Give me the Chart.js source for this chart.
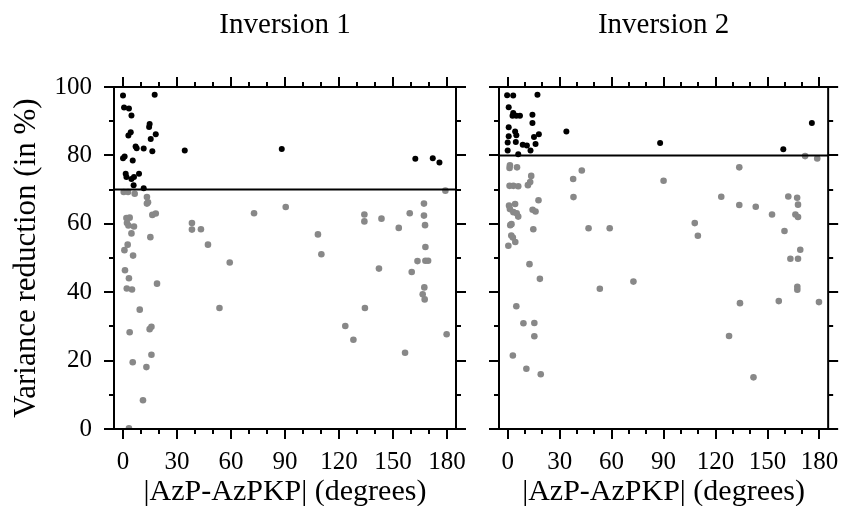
<!DOCTYPE html>
<html>
<head>
<meta charset="utf-8">
<script src="https://cdn.jsdelivr.net/npm/chart.js@4.4.0/dist/chart.umd.min.js"></script>
<style>
  body { margin: 0; background: #fff; }
  #wrap { position: relative; width: 857px; height: 506px; }
  canvas { position: absolute; left: 0; top: 0; }
</style>
</head>
<body>
<div id="wrap">
  <canvas id="inv1" width="857" height="506"></canvas>
  <canvas id="inv2" width="857" height="506"></canvas>
</div>
<script>
// [|AzP-AzPKP|, variance reduction]
const inv1Above = [[0,97.5],[17.6,97.7],[0.6,94.0],[3.3,93.7],[4.7,91.7],[14.8,89.2],[14.5,88.3],[4.3,86.8],[3.0,85.8],[18.2,86.2],[15.4,84.8],[7.0,82.6],[7.6,82.1],[11.5,82.0],[16.3,81.2],[34.3,81.4],[0,79.2],[0.9,79.7],[5.4,78.5],[1.5,74.6],[1.9,73.7],[6.1,73.7],[8.9,74.6],[4.7,73.1],[5.9,71.3],[11.5,70.4],[88.2,81.9],[162.4,79.0],[172.1,79.2],[175.8,77.9]];
const inv1Below = [[0.4,69.3],[2.8,69.3],[6.5,68.8],[13.3,67.8],[13.9,66.3],[13.3,65.9],[16.3,62.6],[18.2,63.0],[72.8,63.1],[1.9,61.7],[3.7,61.8],[2.2,60.2],[3.0,59.5],[6.1,59.2],[4.7,57.2],[15.2,56.1],[38.3,60.2],[38.3,58.3],[43.3,58.4],[47.2,53.9],[2.6,53.9],[0.8,52.3],[5.6,50.7],[59.3,48.7],[1.1,46.4],[3.3,44.1],[18.9,42.5],[2.1,41.1],[5.0,40.8],[9.3,34.9],[53.6,35.4],[15.8,29.9],[14.8,29.2],[3.7,28.3],[15.8,21.7],[5.4,19.5],[13.0,18.1],[11.1,8.4],[3.3,0.2],[90.4,64.9],[179.1,69.7],[167.2,65.9],[134.1,62.7],[134.1,60.7],[143.6,61.5],[159.3,63.1],[167.2,62.4],[153.2,58.8],[167.8,59.6],[108.3,56.9],[110.2,51.1],[168.0,53.2],[163.6,49.1],[168.0,49.2],[169.5,49.2],[142.2,46.9],[160.4,45.9],[167.4,41.4],[166.5,39.4],[167.6,37.9],[134.4,35.4],[123.5,30.1],[128.0,26.1],[179.8,27.7],[156.7,22.3]];
const inv2Above = [[-0.3,97.6],[3.2,97.5],[17.2,97.7],[0.6,94.1],[3.2,92.4],[2.8,91.6],[5.0,91.6],[7.1,91.6],[14.3,91.9],[14.3,89.5],[0.6,88.2],[4.3,87.0],[5.0,85.9],[33.9,87.0],[18.0,86.2],[15.2,85.4],[0.6,85.6],[0,83.8],[4.7,83.9],[8.7,83.1],[11.1,82.9],[16.1,83.3],[0,81.4],[13.2,81.4],[6.1,80.3],[88.0,83.6],[159.1,81.8],[175.6,89.5]];
const inv2Below = [[1.3,77.1],[1.1,76.3],[5.4,76.5],[13.6,74.0],[13.0,72.2],[11.7,71.3],[1.1,71.1],[3.3,71.1],[6.1,71.0],[42.8,75.6],[37.8,73.1],[38.0,67.8],[17.8,66.9],[0.8,65.3],[4.3,65.8],[1.3,64.3],[3.3,63.4],[5.2,63.1],[6.1,62.1],[14.4,64.1],[16.1,63.6],[2.2,59.9],[1.5,59.6],[14.8,58.4],[46.7,58.7],[58.9,58.7],[2.1,56.6],[3.0,56.0],[4.4,54.7],[0.4,53.6],[12.6,48.2],[18.6,43.9],[53.2,41.0],[72.6,43.1],[5.0,35.9],[9.1,30.9],[15.4,31.0],[15.4,27.1],[3.0,21.5],[10.8,17.6],[19.1,16.0],[171.7,79.8],[178.7,79.1],[133.7,76.5],[90.0,72.6],[123.3,67.9],[162.0,68.0],[167.1,67.6],[167.6,65.6],[133.7,65.5],[143.2,65.0],[152.6,62.7],[166.1,62.7],[167.6,62.0],[108.0,60.2],[109.8,56.5],[159.8,57.9],[168.9,52.4],[163.2,49.8],[167.6,49.8],[167.2,41.6],[167.2,40.7],[156.5,37.4],[134.1,36.8],[179.7,37.1],[127.8,27.2],[141.9,15.1]];

const threshold1 = 70;
const threshold2 = 80;

const xRange = [-5, 185];
const yRange = [0, 100];
const xTickLabels = [0, 30, 60, 90, 120, 150, 180];
const yTickLabels = [0, 20, 40, 60, 80, 100];
const xAllTicks = [0, 10, 20, 30, 40, 50, 60, 70, 80, 90, 100, 110, 120, 130, 140, 150, 160, 170, 180];
const yAllTicks = [0, 10, 20, 30, 40, 50, 60, 70, 80, 90, 100];

const serif = "'Liberation Serif', 'Times New Roman', serif";

// box + outward ticks on all four sides, like the matplotlib original
const frameTicks = {
  id: "frameTicks",
  afterDraw(chart) {
    const { ctx, chartArea: a } = chart;
    const x = chart.scales.x, y = chart.scales.y;
    ctx.save();
    ctx.strokeStyle = "#000";
    ctx.lineWidth = 2;
    ctx.beginPath();
    xAllTicks.forEach(v => {
      const len = xTickLabels.includes(v) ? 10 : 5;
      const px = Math.round(x.getPixelForValue(v));
      ctx.moveTo(px, a.bottom); ctx.lineTo(px, a.bottom + len);
      ctx.moveTo(px, a.top); ctx.lineTo(px, a.top - len);
    });
    yAllTicks.forEach(v => {
      const len = yTickLabels.includes(v) ? 10 : 5;
      const py = Math.round(y.getPixelForValue(v));
      ctx.moveTo(a.left, py); ctx.lineTo(a.left - len, py);
      ctx.moveTo(a.right, py); ctx.lineTo(a.right + len, py);
    });
    ctx.stroke();
    ctx.strokeRect(a.left, a.top, a.right - a.left, a.bottom - a.top);
    ctx.restore();
  }
};

function toPoints(arr) {
  return arr.map(p => ({ x: p[0], y: p[1] }));
}

function makePanel(id, title, above, below, threshold, leftWidth, rightPad, showY) {
  new Chart(document.getElementById(id), {
    type: "scatter",
    data: {
      datasets: [
        {
          type: "line",
          data: [{ x: xRange[0], y: threshold }, { x: xRange[1], y: threshold }],
          borderColor: "#000",
          borderWidth: 2,
          pointRadius: 0,
          order: 0
        },
        {
          data: toPoints(above),
          backgroundColor: "#000",
          pointRadius: 3,
          pointBorderWidth: 0,
          order: 1
        },
        {
          data: toPoints(below),
          backgroundColor: "#888888",
          pointRadius: 3.3,
          pointBorderWidth: 0,
          order: 2
        }
      ]
    },
    options: {
      responsive: false,
      animation: false,
      devicePixelRatio: 1,
      events: [],
      layout: { padding: { left: 0, right: rightPad, top: 0, bottom: 0 } },
      plugins: {
        legend: { display: false },
        tooltip: { enabled: false },
        title: {
          display: true,
          text: title,
          fullSize: false,
          color: "#000",
          font: { family: serif, size: 29, weight: "normal" },
          padding: { top: 8, bottom: 44.2 }
        }
      },
      scales: {
        x: {
          type: "linear",
          min: xRange[0],
          max: xRange[1],
          afterBuildTicks: s => { s.ticks = xTickLabels.map(v => ({ value: v })); },
          afterFit: s => { s.height = 77; },
          grid: { display: false, drawTicks: false },
          border: { display: false },
          ticks: {
            autoSkip: false,
            maxRotation: 0,
            padding: 18,
            color: "#000",
            font: { family: serif, size: 25 }
          },
          title: {
            display: true,
            text: "|AzP-AzPKP| (degrees)",
            color: "#000",
            font: { family: serif, size: 30, lineHeight: 1 },
            padding: { top: 0, bottom: -1 }
          }
        },
        y: {
          type: "linear",
          min: yRange[0],
          max: yRange[1],
          afterBuildTicks: s => { s.ticks = yTickLabels.map(v => ({ value: v })); },
          afterFit: s => { s.width = leftWidth; },
          grid: { display: false, drawTicks: false },
          border: { display: false },
          ticks: {
            display: showY,
            padding: 22,
            color: "#000",
            font: { family: serif, size: 25 }
          },
          title: {
            display: showY,
            text: "Variance reduction (in %)",
            color: "#000",
            font: { family: serif, size: 31 },
            padding: { top: 8, bottom: 4 }
          }
        }
      }
    },
    plugins: [frameTicks]
  });
}

makePanel("inv1", "Inversion 1", inv1Above, inv1Below, threshold1, 114, 401, true);
makePanel("inv2", "Inversion 2", inv2Above, inv2Below, threshold2, 499, 16, false);
</script>
</body>
</html>
